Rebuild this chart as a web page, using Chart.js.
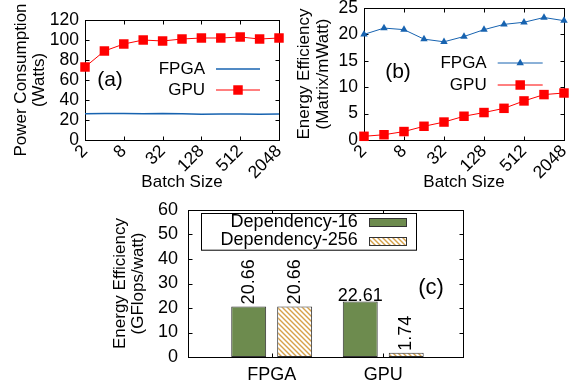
<!DOCTYPE html>
<html><head><meta charset="utf-8">
<script src="https://cdn.jsdelivr.net/npm/chart.js@4.4.1/dist/chart.umd.min.js"></script>
<style>
html,body{margin:0;padding:0;background:#fff;width:578px;height:383px;overflow:hidden}
.box{position:absolute}
canvas{display:block}
</style></head><body>
<div class="box" style="left:0;top:0;width:289px;height:195px"><canvas id="ca" width="289" height="195"></canvas></div>
<div class="box" style="left:289px;top:0;width:289px;height:195px"><canvas id="cb" width="289" height="195"></canvas></div>
<div class="box" style="left:100px;top:195px;width:400px;height:188px"><canvas id="cc" width="400" height="188"></canvas></div>
<script>
// ---------- data ----------
const batchSizes = ['2','4','8','16','32','64','128','256','512','1024','2048'];
const powerFPGA = [26.3, 26.6, 26.5, 26.2, 26.6, 26.3, 25.8, 26.1, 25.9, 25.7, 26.0];
const powerGPU  = [73, 89, 96, 100, 99, 101, 102, 102, 103, 101, 102];
const effFPGA   = [20.0, 21.2, 20.9, 19.1, 18.6, 19.6, 20.9, 21.9, 22.3, 23.2, 22.6];
const effGPU    = [0.7, 1.0, 1.6, 2.6, 3.4, 4.5, 5.2, 6.0, 7.4, 8.6, 8.9];
const platforms = ['FPGA', 'GPU'];
const dep16  = [20.66, 22.61];
const dep256 = [20.66, 1.74];
const seriesNames = ['FPGA', 'GPU'];
const depNames = ['Dependency-16', 'Dependency-256'];

const FONT = '"Liberation Sans", Arial, sans-serif';
Chart.defaults.font.family = FONT;
Chart.defaults.color = '#000';

function marker(ctx, style, r, x, y) {
  ctx.beginPath();
  if (style === 'rect') {
    const s = Math.SQRT1_2 * r;
    ctx.rect(x - s, y - s, 2 * s, 2 * s);
  } else if (style === 'triangle') {
    let a = 0;
    ctx.moveTo(x + Math.sin(a) * r, y - Math.cos(a) * r);
    a += Math.PI * 2 / 3;
    ctx.lineTo(x + Math.sin(a) * r, y - Math.cos(a) * r);
    a += Math.PI * 2 / 3;
    ctx.lineTo(x + Math.sin(a) * r, y - Math.cos(a) * r);
    ctx.closePath();
  }
  ctx.fill();
}

const framePlugin = {
  id: 'frame',
  beforeDatasetsDraw(chart, args, o) {
    const {ctx, chartArea: a, scales} = chart;
    ctx.save();
    ctx.strokeStyle = '#000';
    ctx.lineWidth = 1;
    const L = Math.round(a.left) + 0.5, T = Math.round(a.top) + 0.5;
    const R = Math.round(a.right) + 0.5, B = Math.round(a.bottom) + 0.5;
    ctx.strokeRect(L, T, R - L, B - T);
    const len = 4;
    ctx.beginPath();
    scales.x.ticks.forEach((t, i) => {
      if (o.xEvery && i % o.xEvery) return;
      const px = Math.round(scales.x.getPixelForTick(i)) + 0.5;
      ctx.moveTo(px, B); ctx.lineTo(px, B - len);
      ctx.moveTo(px, T); ctx.lineTo(px, T + len);
    });
    scales.y.ticks.forEach((t, i) => {
      const py = Math.round(scales.y.getPixelForTick(i)) + 0.5;
      ctx.moveTo(L, py); ctx.lineTo(L + len, py);
      ctx.moveTo(R, py); ctx.lineTo(R - len, py);
    });
    ctx.stroke();
    ctx.restore();
  }
};

const keyPlugin = {
  id: 'keyBox',
  afterDatasetsDraw(chart, args, o) {
    const {ctx, chartArea: a} = chart;
    ctx.save();
    ctx.font = '17px ' + FONT;
    ctx.textAlign = 'right';
    ctx.textBaseline = 'middle';
    chart.data.datasets.forEach((d, i) => {
      const y = a.top + o.y + i * o.dy;
      const xr = a.left + o.x;
      ctx.fillStyle = '#000';
      ctx.fillText(d.label, xr, y);
      const x0 = xr + o.gap, x1 = x0 + o.len;
      ctx.strokeStyle = d.borderColor;
      ctx.lineWidth = d.borderWidth;
      ctx.beginPath(); ctx.moveTo(x0, y); ctx.lineTo(x1, y); ctx.stroke();
      if (d.pointRadius > 0) {
        ctx.fillStyle = d.backgroundColor;
        marker(ctx, d.pointStyle, d.pointRadius, (x0 + x1) / 2, y);
      }
    });
    ctx.restore();
  }
};

const panelPlugin = {
  id: 'panelLabel',
  afterDatasetsDraw(chart, args, o) {
    const {ctx, chartArea: a} = chart;
    ctx.save();
    ctx.font = o.size + 'px ' + FONT;
    ctx.textAlign = 'center';
    ctx.textBaseline = 'middle';
    ctx.fillStyle = '#000';
    ctx.fillText(o.text, a.left + o.x, a.top + o.y);
    ctx.restore();
  }
};

function lineOptions(yMax, step, yTitle, titlePad, yWidth, padRight, padTop, key, panel) {
  return {
    responsive: false,
    animation: false,
    layout: {padding: {left: 0, right: padRight, top: padTop, bottom: 0}},
    plugins: {
      legend: {display: false},
      tooltip: {enabled: false},
      frame: {xEvery: 2},
      keyBox: key,
      panelLabel: panel
    },
    scales: {
      x: {
        type: 'category', offset: false,
        grid: {display: false, drawTicks: false}, border: {display: false},
        ticks: {autoSkip: false, maxRotation: 45, minRotation: 45, padding: 1,
                font: {size: 17.5}, color: '#000',
                callback: (v, i) => (i % 2 === 0 ? batchSizes[i] : '')},
        title: {display: true, text: 'Batch Size', color: '#000',
                font: {size: 17, lineHeight: 1.1}, padding: {top: 0, bottom: 3}},
        afterFit(s) { s.height = 55; s.paddingLeft = 0; s.paddingRight = 0; }
      },
      y: {
        min: 0, max: yMax,
        grid: {display: false, drawTicks: false}, border: {display: false},
        ticks: {stepSize: step, autoSkip: false, padding: 6, font: {size: 17.5}, color: '#000'},
        title: {display: true, text: yTitle, color: '#000',
                font: {size: 17, lineHeight: 1.1}, padding: {top: titlePad, bottom: 0}},
        afterFit(s) { s.width = yWidth; s.paddingTop = 0; s.paddingBottom = 0; }
      }
    }
  };
}

const BLUE = '#1763b0';
const RED = '#ff0000';

// ---------- (a) ----------
new Chart(document.getElementById('ca'), {
  type: 'line',
  data: {
    labels: batchSizes,
    datasets: [
      {label: seriesNames[0], data: powerFPGA, borderColor: BLUE, backgroundColor: BLUE,
       borderWidth: 1.5, pointRadius: 0, tension: 0, clip: false},
      {label: seriesNames[1], data: powerGPU, borderColor: RED, backgroundColor: RED,
       borderWidth: 1, pointStyle: 'rect', pointRadius: 6.7, pointBorderWidth: 0, tension: 0, clip: false}
    ]
  },
  options: lineOptions(120, 20, ['Power Consumption', '(Watts)'], 11.5, 85, 10, 20,
    {x: 120, y: 49, dy: 21, gap: 11, len: 44},
    {text: '(a)', x: 25, y: 60, size: 21}),
  plugins: [framePlugin, keyPlugin, panelPlugin]
});

// ---------- (b) ----------
new Chart(document.getElementById('cb'), {
  type: 'line',
  data: {
    labels: batchSizes,
    datasets: [
      {label: seriesNames[0], data: effFPGA, borderColor: BLUE, backgroundColor: BLUE,
       borderWidth: 1, pointStyle: 'triangle', pointRadius: 4.3, pointBorderWidth: 0, tension: 0, clip: false},
      {label: seriesNames[1], data: effGPU, borderColor: RED, backgroundColor: RED,
       borderWidth: 1, pointStyle: 'rect', pointRadius: 6.7, pointBorderWidth: 0, tension: 0, clip: false}
    ]
  },
  options: lineOptions(25, 5, ['Energy Efficiency', '(Matrix/mWatt)'], 6, 75, 14, 8,
    {x: 122.7, y: 55, dy: 22, gap: 11, len: 45},
    {text: '(b)', x: 34, y: 64, size: 21}),
  plugins: [framePlugin, keyPlugin, panelPlugin]
});

// ---------- (c) ----------
const cc = document.getElementById('cc');
function hatchPattern(ctx, color) {
  const s = 5;
  const c = document.createElement('canvas');
  c.width = s; c.height = s;
  const g = c.getContext('2d');
  g.fillStyle = '#fff'; g.fillRect(0, 0, s, s);
  g.strokeStyle = color; g.lineWidth = 1.4;
  g.beginPath();
  g.moveTo(-1, -1); g.lineTo(s + 1, s + 1);
  g.moveTo(-1, s - 1); g.lineTo(1, s + 1);
  g.moveTo(s - 1, -1); g.lineTo(s + 1, 1);
  g.stroke();
  return ctx.createPattern(c, 'repeat');
}
const GREEN = '#6d8b4e';
const HATCH = hatchPattern(cc.getContext('2d'), '#d6a14a');

const barKeyPlugin = {
  id: 'barKey',
  afterDatasetsDraw(chart, args, o) {
    const {ctx, chartArea: a} = chart;
    ctx.save();
    ctx.fillStyle = '#fff';
    ctx.fillRect(Math.round(a.left + o.bx) + 0.5, Math.round(a.top + o.by) + 0.5, o.bw, o.bh);
    ctx.strokeStyle = '#000'; ctx.lineWidth = 1;
    ctx.strokeRect(Math.round(a.left + o.bx) + 0.5, Math.round(a.top + o.by) + 0.5, o.bw, o.bh);
    ctx.font = '18px ' + FONT;
    ctx.textAlign = 'right'; ctx.textBaseline = 'middle';
    chart.data.datasets.forEach((d, i) => {
      const y = a.top + o.y + i * o.dy;
      ctx.fillStyle = '#000';
      ctx.fillText(d.label, a.left + o.tx, y);
      const sx = Math.round(a.left + o.sx) + 0.5, sy = Math.round(y - o.sh / 2) + 0.5;
      ctx.fillStyle = d.backgroundColor;
      ctx.fillRect(sx, sy, o.sw, o.sh);
      ctx.strokeStyle = '#333';
      ctx.strokeRect(sx, sy, o.sw, o.sh);
    });
    ctx.restore();
  }
};

const valuePlugin = {
  id: 'values',
  afterDatasetsDraw(chart, args, o) {
    const ctx = chart.ctx;
    ctx.save();
    ctx.fillStyle = '#000';
    ctx.font = '18px ' + FONT;
    chart.data.datasets.forEach((d, di) => {
      const meta = chart.getDatasetMeta(di);
      meta.data.forEach((el, i) => {
        const txt = d.data[i].y.toFixed(2);
        if (o.rotated[di][i]) {
          ctx.save();
          ctx.translate(el.x, el.y - 2);
          ctx.rotate(-Math.PI / 2);
          ctx.textAlign = 'left'; ctx.textBaseline = 'middle';
          ctx.fillText(txt, 0, 0);
          ctx.restore();
        } else {
          ctx.textAlign = 'center'; ctx.textBaseline = 'alphabetic';
          ctx.fillText(txt, el.x, el.y - 1);
        }
      });
    });
    ctx.restore();
  }
};

new Chart(cc, {
  type: 'bar',
  data: {
    datasets: [
      {label: depNames[0], data: platforms.map((p, i) => ({x: i, y: dep16[i]})),
       backgroundColor: GREEN, borderColor: '#333', borderWidth: 1, borderSkipped: false,
       categoryPercentage: 0.824, barPercentage: 0.76},
      {label: depNames[1], data: platforms.map((p, i) => ({x: i, y: dep256[i]})),
       backgroundColor: HATCH, borderColor: '#333', borderWidth: 1, borderSkipped: false,
       categoryPercentage: 0.824, barPercentage: 0.76}
    ]
  },
  options: {
    responsive: false,
    animation: false,
    layout: {padding: {left: 0, right: 37, top: 15, bottom: 0}},
    plugins: {
      legend: {display: false},
      tooltip: {enabled: false},
      frame: {},
      barKey: {bx: 13.4, by: 3.3, bw: 215, bh: 36.7, tx: 169.7, sx: 180.7, sw: 37, sh: 8, y: 11.7, dy: 18.8},
      values: {rotated: [[true, false], [true, true]]},
      panelLabel: {text: '(c)', x: 243, y: 78, size: 22}
    },
    scales: {
      x: {
        type: 'linear', min: -0.75, max: 1.715, offset: false,
        grid: {display: false, drawTicks: false}, border: {display: false},
        afterBuildTicks(s) { s.ticks = platforms.map((p, i) => ({value: i})); },
        ticks: {callback: (v) => platforms[v], font: {size: 18}, padding: 7, maxRotation: 0, minRotation: 0, color: '#000'},
        afterFit(s) { s.height = 26; s.paddingLeft = 0; s.paddingRight = 0; }
      },
      y: {
        min: 0, max: 60,
        grid: {display: false, drawTicks: false}, border: {display: false},
        ticks: {stepSize: 10, autoSkip: false, padding: 10, font: {size: 18}, color: '#000'},
        title: {display: true, text: ['Energy Efficiency', '(GFlops/watt)'], color: '#000',
                font: {size: 17, lineHeight: 1.1}, padding: {top: 10.6, bottom: 0}},
        afterFit(s) { s.width = 88; s.paddingTop = 0; s.paddingBottom = 0; }
      }
    }
  },
  plugins: [framePlugin, barKeyPlugin, valuePlugin, panelPlugin]
});
</script>
</body></html>
